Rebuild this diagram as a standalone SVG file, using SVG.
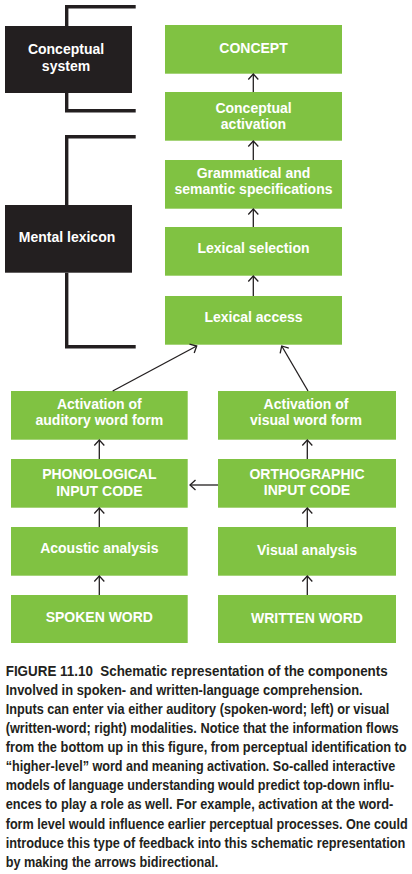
<svg xmlns="http://www.w3.org/2000/svg" width="412" height="874" viewBox="0 0 412 874">
<defs>
<style>
.g{fill:#80c242}
.k{fill:#231f20}
.t{font-family:"Liberation Sans",Arial,sans-serif;font-weight:bold;font-size:14px;fill:#ffffff;text-anchor:middle}
.br{fill:none;stroke:#231f20;stroke-width:3.4;stroke-linejoin:miter}
.ar{fill:none;stroke:#231f20;stroke-width:1.3;marker-end:url(#ah)}
.cap{font-family:"Liberation Sans",Arial,sans-serif;font-weight:bold;font-size:14.5px;fill:#231f20}
</style>
<marker id="ah" viewBox="-8 -7 10 14" refX="0" refY="0" markerWidth="10" markerHeight="14" markerUnits="userSpaceOnUse" orient="auto" overflow="visible">
<path d="M-5.5,-5 L0,0 L-5.5,5" fill="none" stroke="#231f20" stroke-width="1.3"/>
</marker>
</defs>
<rect width="412" height="874" fill="#ffffff"/>

<g id="conceptual-system">
<path class="br" d="M135.7,6.7 H66.7 V26"/>
<path class="br" d="M66.7,93 V110.7 H135.7"/>
<rect class="k" x="5" y="26" width="127" height="67"/>
<text class="t" x="66" y="54.3">Conceptual</text>
<text class="t" x="66" y="70.7">system</text>
</g>

<g id="mental-lexicon">
<path class="br" d="M135.7,136.7 H66.7 V205"/>
<path class="br" d="M66.7,272.7 V346.7 H135.7"/>
<rect class="k" x="5" y="205" width="127" height="67.7"/>
<text class="t" x="67" y="242">Mental lexicon</text>
</g>

<g id="concept">
<rect class="g" x="165" y="25" width="177" height="48.7"/>
<text class="t" x="253.5" y="52.7">CONCEPT</text>
</g>
<g id="conceptual-activation">
<rect class="g" x="165" y="92" width="177" height="48.7"/>
<text class="t" x="253.5" y="112.5">Conceptual</text>
<text class="t" x="253.5" y="129">activation</text>
</g>
<g id="grammatical-semantic">
<rect class="g" x="165" y="160" width="177" height="48.7"/>
<text class="t" x="253.5" y="178.3">Grammatical and</text>
<text class="t" x="253.5" y="194.3">semantic specifications</text>
</g>
<g id="lexical-selection">
<rect class="g" x="165" y="227" width="177" height="48.7"/>
<text class="t" x="253.5" y="253.3">Lexical selection</text>
</g>
<g id="lexical-access">
<rect class="g" x="165" y="296" width="177" height="48.7"/>
<text class="t" x="253.5" y="322.3">Lexical access</text>
</g>

<g id="activation-auditory">
<rect class="g" x="11" y="391" width="176.7" height="48.7"/>
<text class="t" x="99.3" y="409">Activation of</text>
<text class="t" x="99.3" y="425.3">auditory word form</text>
</g>
<g id="activation-visual">
<rect class="g" x="218" y="391" width="178" height="48.7"/>
<text class="t" x="306" y="409">Activation of</text>
<text class="t" x="306" y="425.3">visual word form</text>
</g>
<g id="phonological-input-code">
<rect class="g" x="11" y="459" width="176.7" height="48.7"/>
<text class="t" x="99.3" y="479.3">PHONOLOGICAL</text>
<text class="t" x="99.3" y="495.7">INPUT CODE</text>
</g>
<g id="orthographic-input-code">
<rect class="g" x="218" y="459" width="178" height="48.7"/>
<text class="t" x="307" y="478.7">ORTHOGRAPHIC</text>
<text class="t" x="307" y="495">INPUT CODE</text>
</g>
<g id="acoustic-analysis">
<rect class="g" x="11" y="527" width="176.7" height="48.7"/>
<text class="t" x="99.3" y="552.5">Acoustic analysis</text>
</g>
<g id="visual-analysis">
<rect class="g" x="218" y="527" width="178" height="48.7"/>
<text class="t" x="307" y="555">Visual analysis</text>
</g>
<g id="spoken-word">
<rect class="g" x="11" y="595" width="176.7" height="48"/>
<text class="t" x="99.3" y="622.3">SPOKEN WORD</text>
</g>
<g id="written-word">
<rect class="g" x="218" y="595" width="178" height="48"/>
<text class="t" x="307" y="623.3">WRITTEN WORD</text>
</g>

<g id="connectors">
<line class="ar" x1="253.3" y1="92" x2="253.3" y2="74"/>
<line class="ar" x1="253.3" y1="160" x2="253.3" y2="141"/>
<line class="ar" x1="253.3" y1="227" x2="253.3" y2="209"/>
<line class="ar" x1="253.3" y1="296" x2="253.3" y2="276"/>
<line class="ar" x1="112.7" y1="391" x2="196.7" y2="346"/>
<line class="ar" x1="308" y1="391" x2="281.7" y2="346"/>
<line class="ar" x1="99.3" y1="459" x2="99.3" y2="440"/>
<line class="ar" x1="99.3" y1="527" x2="99.3" y2="508"/>
<line class="ar" x1="99.3" y1="595" x2="99.3" y2="576"/>
<line class="ar" x1="307.3" y1="459" x2="307.3" y2="440"/>
<line class="ar" x1="307.3" y1="527" x2="307.3" y2="508"/>
<line class="ar" x1="307.3" y1="595" x2="307.3" y2="576"/>
<line class="ar" x1="218" y1="485" x2="190" y2="485"/>
</g>

<g id="caption">
<text class="cap" transform="translate(5.7 675.7) scale(0.88 1)" textLength="434.1" lengthAdjust="spacingAndGlyphs">FIGURE 11.10&#160; Schematic representation of the components</text>
<text class="cap" transform="translate(5.7 694.8) scale(0.88 1)" textLength="405.7" lengthAdjust="spacingAndGlyphs">Involved in spoken- and written-language comprehension.</text>
<text class="cap" transform="translate(5.7 713.9) scale(0.88 1)" textLength="435.9" lengthAdjust="spacingAndGlyphs">Inputs can enter via either auditory (spoken-word; left) or visual</text>
<text class="cap" transform="translate(5.7 733) scale(0.88 1)" textLength="446.6" lengthAdjust="spacingAndGlyphs">(written-word; right) modalities. Notice that the information flows</text>
<text class="cap" transform="translate(5.7 752.1) scale(0.88 1)" textLength="455.7" lengthAdjust="spacingAndGlyphs">from the bottom up in this figure, from perceptual identification to</text>
<text class="cap" transform="translate(5.7 771.2) scale(0.88 1)" textLength="442.7" lengthAdjust="spacingAndGlyphs">“higher-level” word and meaning activation. So-called interactive</text>
<text class="cap" transform="translate(5.7 790.3) scale(0.88 1)" textLength="441.3" lengthAdjust="spacingAndGlyphs">models of language understanding would predict top-down influ-</text>
<text class="cap" transform="translate(5.7 809.4) scale(0.88 1)" textLength="440.5" lengthAdjust="spacingAndGlyphs">ences to play a role as well. For example, activation at the word-</text>
<text class="cap" transform="translate(5.7 828.5) scale(0.88 1)" textLength="456.8" lengthAdjust="spacingAndGlyphs">form level would influence earlier perceptual processes. One could</text>
<text class="cap" transform="translate(5.7 847.6) scale(0.88 1)" textLength="454.1" lengthAdjust="spacingAndGlyphs">introduce this type of feedback into this schematic representation</text>
<text class="cap" transform="translate(5.7 866.7) scale(0.88 1)" textLength="241.6" lengthAdjust="spacingAndGlyphs">by making the arrows bidirectional.</text>
</g>
</svg>
